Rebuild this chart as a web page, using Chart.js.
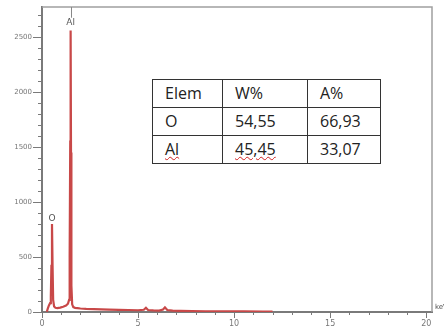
<!DOCTYPE html>
<html lang="en">
<head>
    <meta charset="UTF-8">
    <title>EDS spectrum - Al2O3</title>
    <script src="https://cdn.jsdelivr.net/npm/chart.js"></script>
    <style>
        html, body { margin: 0; padding: 0; background: #fff; }
        .wrap { position: relative; width: 444px; height: 330px; overflow: hidden; }
        #spectrum { position: absolute; left: 0; top: 0; }
        /* composition table pasted over the spectrum */
        .comp {
            position: absolute;
            left: 152px;
            top: 79px;
            border-collapse: collapse;
            font-family: "Open Sans", sans-serif;
            font-size: 16px;
            color: #222;
            background: #fff;
        }
        .comp td {
            border: 1px solid #333;
            height: 25px;
            padding: 0 0 2px 12px;
            line-height: 18px;
            vertical-align: middle;
        }
        .comp td:nth-child(1) { width: 57px; }
        .comp td:nth-child(2) { width: 72px; }
        .comp td:nth-child(3) { width: 60px; }
        .spell { text-decoration: underline wavy #d02020; text-decoration-thickness: 1px; text-underline-offset: 1px; }
    </style>
</head>
<body>
    <div class="wrap">
        <canvas id="spectrum" width="444" height="330"></canvas>
        <table class="comp" id="compTable"></table>
    </div>

    <script>
        // spectrum (keV vs counts)
        const energy = [0.25, 0.30, 0.36, 0.42, 0.46, 0.49, 0.52, 0.55, 0.58, 0.63, 0.70, 0.80, 0.95, 1.10, 1.25, 1.35, 1.41, 1.44, 1.47, 1.49, 1.51, 1.53, 1.57, 1.63, 1.72, 1.85, 2.0, 2.3, 2.7, 3.1, 3.5, 4.0, 4.5, 5.0, 5.3, 5.41, 5.52, 5.8, 6.1, 6.3, 6.40, 6.52, 6.8, 7.2, 7.8, 8.5, 9.5, 10.5, 11.5, 12.0];
        const counts = [2, 30, 60, 80, 140, 420, 800, 420, 110, 50, 38, 35, 40, 48, 58, 75, 110, 500, 1550, 2560, 1450, 240, 70, 45, 38, 35, 32, 28, 26, 24, 22, 20, 18, 16, 20, 38, 18, 15, 13, 22, 42, 18, 12, 10, 8, 7, 6, 5, 4, 3];

        // peak markers
        const peakNames = ['O', 'Al'];
        const peakEnergy = [0.52, 1.49];
        const peakLabelAt = [845, 2630];

        // composition table
        const elements = ['O', 'Al'];
        const weightPct = ['54,55', '45,45'];
        const atomicPct = ['66,93', '33,07'];

        const yTicks = [0, 500, 1000, 1500, 2000, 2500];
        const xTicks = [0, 5, 10, 15, 20];

        // build table
        const table = document.getElementById('compTable');
        let rows = '<tr><td>Elem</td><td>W%</td><td>A%</td></tr>';
        elements.forEach((el, i) => {
            const cls = el === 'Al' ? ' class="spell"' : '';
            rows += `<tr><td><span${cls}>${el}</span></td><td><span${cls}>${weightPct[i]}</span></td><td>${atomicPct[i]}</td></tr>`;
        });
        table.innerHTML = rows;

        const axisGray = '#7a7a7a';

        // frame, minor ticks, peak labels, unit
        const decorPlugin = {
            id: 'decor',
            afterDraw(chart) {
                const { ctx, chartArea: a, scales: { x, y } } = chart;
                ctx.save();
                // top and right border
                ctx.strokeStyle = '#a0a0a0';
                ctx.lineWidth = 1.5;
                ctx.beginPath();
                ctx.moveTo(a.left, a.top);
                ctx.lineTo(a.right, a.top);
                ctx.lineTo(a.right, a.bottom);
                ctx.stroke();

                // minor ticks
                ctx.strokeStyle = axisGray;
                ctx.lineWidth = 1;
                ctx.beginPath();
                for (let v = 100; v < y.max; v += 100) {
                    if (v % 500 === 0) continue;
                    const py = Math.round(y.getPixelForValue(v)) + 0.5;
                    ctx.moveTo(a.left - 4, py);
                    ctx.lineTo(a.left, py);
                }
                for (let v = 1; v < x.max; v += 1) {
                    if (v % 5 === 0) continue;
                    const px = Math.round(x.getPixelForValue(v)) + 0.5;
                    ctx.moveTo(px, a.bottom);
                    ctx.lineTo(px, a.bottom + 3);
                }
                ctx.stroke();

                // peak labels
                ctx.font = '9px "DejaVu Sans", sans-serif';
                ctx.fillStyle = '#555';
                ctx.textAlign = 'center';
                ctx.textBaseline = 'middle';
                peakNames.forEach((name, i) => {
                    const px = x.getPixelForValue(peakEnergy[i]);
                    const py = y.getPixelForValue(peakLabelAt[i]);
                    ctx.fillText(name, px, py);
                    if (name === 'Al') {
                        ctx.strokeStyle = '#888';
                        ctx.beginPath();
                        ctx.moveTo(Math.round(px) + 0.5, a.top);
                        ctx.lineTo(Math.round(px) + 0.5, py - 5);
                        ctx.stroke();
                    }
                });

                // unit at the end of the x axis
                ctx.font = '7px "DejaVu Sans", sans-serif';
                ctx.textAlign = 'left';
                ctx.fillText('keV', a.right + 3, a.bottom - 5);
                ctx.restore();
            }
        };

        new Chart(document.getElementById('spectrum').getContext('2d'), {
            type: 'line',
            data: {
                datasets: [{
                    data: energy.map((e, i) => ({ x: e, y: counts[i] })),
                    borderColor: 'rgb(200, 72, 72)',
                    borderWidth: 2.2,
                    pointRadius: 0,
                    tension: 0,
                    fill: false
                }]
            },
            options: {
                responsive: false,
                animation: false,
                layout: { padding: { left: 0, top: 7, right: 12, bottom: 0 } },
                plugins: {
                    legend: { display: false },
                    tooltip: { enabled: false }
                },
                scales: {
                    x: {
                        type: 'linear',
                        min: 0,
                        max: 20.3,
                        afterFit: s => { s.height = 18; },
                        afterBuildTicks: s => { s.ticks = xTicks.map(v => ({ value: v })); },
                        grid: { drawOnChartArea: false, tickLength: 6, tickColor: axisGray, tickWidth: 1 },
                        border: { color: axisGray, width: 2 },
                        ticks: {
                            padding: 1,
                            maxRotation: 0,
                            autoSkip: false,
                            color: '#777',
                            font: { size: 8, family: '"DejaVu Sans", sans-serif' },
                            callback: v => String(v)
                        }
                    },
                    y: {
                        min: 0,
                        max: 2773,
                        afterFit: s => { s.width = 42; },
                        afterBuildTicks: s => { s.ticks = yTicks.map(v => ({ value: v })); },
                        grid: { drawOnChartArea: false, tickLength: 9, tickColor: axisGray, tickWidth: 1 },
                        border: { color: axisGray, width: 2 },
                        ticks: {
                            padding: 1,
                            autoSkip: false,
                            color: '#777',
                            font: { size: 7, family: '"DejaVu Sans", sans-serif' },
                            callback: v => String(v)
                        }
                    }
                }
            },
            plugins: [decorPlugin]
        });
    </script>
</body>
</html>
